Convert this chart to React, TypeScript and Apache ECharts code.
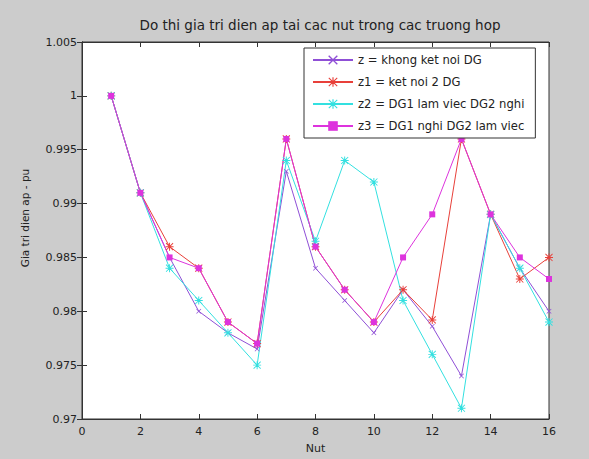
import React, { useEffect, useRef } from "react";
import * as echarts from "echarts";

const nodes = [1, 2, 3, 4, 5, 6, 7, 8, 9, 10, 11, 12, 13, 14, 15, 16];
const zVals = [1.0, 0.991, 0.985, 0.98, 0.978, 0.9765, 0.993, 0.984, 0.981, 0.978, 0.982, 0.9786, 0.974, 0.989, 0.984, 0.98];
const z1Vals = [1.0, 0.991, 0.986, 0.984, 0.979, 0.977, 0.996, 0.986, 0.982, 0.979, 0.982, 0.9792, 0.996, 0.989, 0.983, 0.985];
const z2Vals = [1.0, 0.991, 0.984, 0.981, 0.978, 0.975, 0.994, 0.9865, 0.994, 0.992, 0.981, 0.976, 0.971, 0.989, 0.984, 0.979];
const z3Vals = [1.0, 0.991, 0.985, 0.984, 0.979, 0.977, 0.996, 0.986, 0.982, 0.979, 0.985, 0.989, 0.996, 0.989, 0.985, 0.983];
const seriesNames = [
  "z = khong ket noi DG",
  "z1 = ket noi 2 DG",
  "z2 = DG1 lam viec DG2 nghi",
  "z3 = DG1 nghi DG2 lam viec",
];
const titleText = "Do thi gia tri dien ap tai cac nut trong cac truong hop";
const xName = "Nut";
const yName = "Gia tri dien ap - pu";

const FONT = "DejaVu Sans";
const TEXT = "#222";
const crossPath =
  "path://M0,1 L1,0 L5,4 L9,0 L10,1 L6,5 L10,9 L9,10 L5,6 L1,10 L0,9 L4,5 Z";
const starPath =
  "path://M4.4,0 H5.6 V4.4 H10 V5.6 H5.6 V10 H4.4 V5.6 H0 V4.4 H4.4 Z M1,0.2 L5,4.2 L9,0.2 L9.8,1 L5.8,5 L9.8,9 L9,9.8 L5,5.8 L1,9.8 L0.2,9 L4.2,5 L0.2,1 Z";

export default function App() {
  const ref = useRef<HTMLDivElement>(null);
  useEffect(() => {
    if (!ref.current) return;
    const chart = echarts.init(ref.current, null, { renderer: "svg" });
    const mk = (vals: number[]) => nodes.map((n, i) => [n, vals[i]]);
    const axisCommon = {
      type: "value" as const,
      splitLine: { show: false },
      axisLine: { show: true, lineStyle: { color: "#333", width: 1 } },
      axisTick: { show: true, inside: true, length: 5, lineStyle: { color: "#333" } },
    };
    const option: any = {
      animation: false,
      backgroundColor: "#cccccc",
      textStyle: { fontFamily: FONT },
      title: {
        text: titleText,
        left: 315,
        textAlign: "center",
        top: 13,
        textStyle: { fontFamily: FONT, fontSize: 13.5, fontWeight: "normal", color: TEXT },
      },
      graphic: [
        {
          type: "text",
          x: 25,
          y: 218,
          rotation: Math.PI / 2,
          style: {
            text: yName,
            fontFamily: FONT,
            fontSize: 10.5,
            fill: TEXT,
            textAlign: "center",
            textVerticalAlign: "middle",
          },
        },
      ],
      grid: {
        left: 82,
        right: 40,
        top: 42,
        bottom: 40,
        show: true,
        backgroundColor: "#ffffff",
        borderColor: "#333",
        borderWidth: 1,
      },
      legend: {
        orient: "vertical",
        left: 304,
        top: 48,
        padding: [6, 11, 6, 8],
        itemWidth: 40,
        itemHeight: 12,
        itemGap: 10,
        backgroundColor: "#ffffff",
        borderColor: "#333",
        borderWidth: 1,
        borderRadius: 0,
        textStyle: { fontFamily: FONT, fontSize: 11.6, color: TEXT },
        data: seriesNames,
      },
      xAxis: [
        {
          ...axisCommon,
          position: "bottom",
          min: 0,
          max: 16,
          interval: 2,
          name: xName,
          nameLocation: "middle",
          nameGap: 24,
          nameTextStyle: { fontFamily: FONT, fontSize: 11, color: TEXT },
          axisLabel: { fontFamily: FONT, fontSize: 11, color: TEXT, margin: 7 },
        },
        {
          ...axisCommon,
          position: "top",
          min: 0,
          max: 16,
          interval: 2,
          axisLabel: { show: false },
        },
      ],
      yAxis: [
        {
          ...axisCommon,
          position: "left",
          min: 0.97,
          max: 1.005,
          interval: 0.005,
          axisLabel: {
            fontFamily: FONT,
            fontSize: 11,
            color: TEXT,
            margin: 5,
            formatter: (v: number) => String(Math.round(v * 1000) / 1000),
          },
        },
        {
          ...axisCommon,
          position: "right",
          min: 0.97,
          max: 1.005,
          interval: 0.005,
          axisLabel: { show: false },
        },
      ],
      series: [
        {
          name: seriesNames[0],
          type: "line",
          data: mk(zVals),
          symbol: crossPath,
          symbolSize: 5,
          lineStyle: { color: "#8f4fd6", width: 1 },
          itemStyle: { color: "#8f4fd6" },
        },
        {
          name: seriesNames[1],
          type: "line",
          data: mk(z1Vals),
          symbol: starPath,
          symbolSize: 8,
          lineStyle: { color: "#e8403a", width: 1 },
          itemStyle: { color: "#e8403a" },
        },
        {
          name: seriesNames[2],
          type: "line",
          data: mk(z2Vals),
          symbol: starPath,
          symbolSize: 8,
          lineStyle: { color: "#33e0e0", width: 1 },
          itemStyle: { color: "#33e0e0" },
        },
        {
          name: seriesNames[3],
          type: "line",
          data: mk(z3Vals),
          symbol: "rect",
          symbolSize: 6,
          lineStyle: { color: "#dd33dd", width: 1 },
          itemStyle: { color: "#dd33dd" },
        },
      ],
    };
    chart.setOption(option);
    return () => chart.dispose();
  }, []);
  return (
    <div
      ref={ref}
      style={{ position: "fixed", left: 0, top: 0, width: 589, height: 459 }}
    />
  );
}
